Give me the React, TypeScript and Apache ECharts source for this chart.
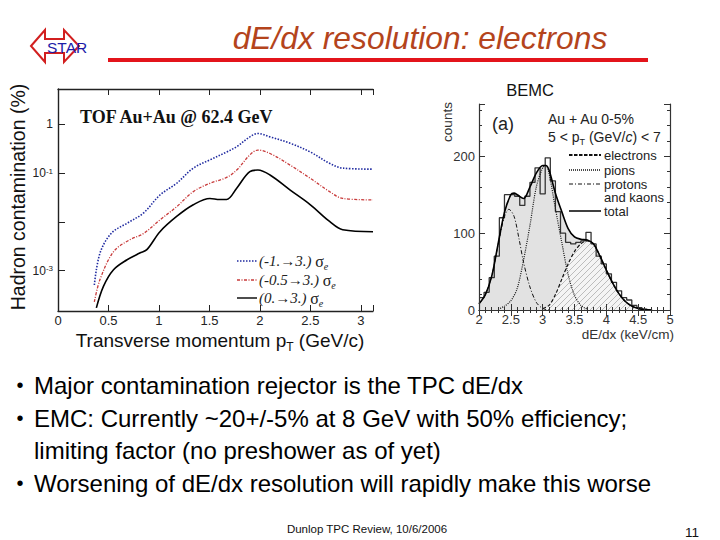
import React, { useEffect, useRef } from "react";
import * as echarts from "echarts";

// ---------- Left plot: hadron contamination vs pT ----------
const blueX = [0.36, 0.416, 0.53, 0.68, 0.845, 1.01, 1.175, 1.34, 1.505, 1.67, 1.77, 1.9, 1.98, 2.1, 2.3, 2.5, 2.69, 2.82, 3.12];
const blueY = [5.1e-4, 2.3e-3, 5.9e-3, 9.3e-3, 0.0151, 0.0355, 0.0617, 0.126, 0.186, 0.269, 0.347, 0.55, 0.646, 0.55, 0.407, 0.269, 0.158, 0.126, 0.12];
const redX = [0.36, 0.416, 0.55, 0.71, 0.845, 1.01, 1.175, 1.34, 1.505, 1.67, 1.77, 1.9, 1.98, 2.1, 2.3, 2.5, 2.69, 2.82, 3.12];
const redY = [2.3e-4, 6.6e-4, 2.45e-3, 4.3e-3, 5.75e-3, 0.011, 0.0204, 0.0417, 0.0617, 0.0813, 0.115, 0.234, 0.295, 0.251, 0.145, 0.0776, 0.0417, 0.0302, 0.0282];
const blackX = [0.38, 0.45, 0.55, 0.68, 0.81, 0.88, 1.01, 1.175, 1.34, 1.505, 1.6, 1.67, 1.77, 1.9, 1.98, 2.1, 2.3, 2.5, 2.69, 2.82, 3.12];
const blackY = [1.74e-4, 4.8e-4, 1.05e-3, 1.66e-3, 2.3e-3, 2.7e-3, 6.3e-3, 0.0129, 0.0224, 0.0302, 0.0288, 0.0288, 0.049, 0.107, 0.115, 0.091, 0.0447, 0.0224, 0.0102, 0.0069, 0.0063];
const leftXTicks = [0, 0.5, 1, 1.5, 2, 2.5, 3];

// ---------- Right plot: BEMC dE/dx histogram ----------
const histEdges = [2.0, 2.08, 2.16, 2.24, 2.32, 2.4, 2.48, 2.56, 2.64, 2.72, 2.8, 2.88, 2.96, 3.04, 3.12, 3.2, 3.28, 3.36, 3.44, 3.52, 3.6, 3.68, 3.76, 3.84, 3.92, 4.0, 4.08, 4.16, 4.24, 4.32, 4.4, 4.48, 4.56, 4.64, 4.72];
const histCounts = [16, 23, 42, 70, 120, 150, 150, 148, 136, 148, 166, 185, 151, 198, 168, 128, 100, 88, 86, 88, 90, 101, 86, 70, 60, 47, 36, 25, 16, 13, 6, 3, 1, 0];
const pkX = [2.0, 2.1, 2.2, 2.3, 2.4, 2.47, 2.55, 2.63, 2.7, 2.8, 2.9, 3.0, 3.1];
const pkY = [8, 20, 44, 85, 122, 131, 122, 92, 62, 30, 10, 2, 0];
const piX = [2.3, 2.4, 2.5, 2.6, 2.7, 2.8, 2.9, 3.0, 3.05, 3.1, 3.2, 3.3, 3.4, 3.5, 3.6, 3.7];
const piY = [1, 5, 12, 28, 65, 110, 160, 185, 188, 178, 132, 88, 46, 19, 6, 1];
const elX = [3.0, 3.1, 3.2, 3.3, 3.4, 3.5, 3.6, 3.7, 3.8, 3.9, 4.0, 4.1, 4.2, 4.3, 4.4, 4.5, 4.6, 4.7];
const elY = [2, 6, 20, 40, 60, 76, 86, 90, 86, 70, 52, 35, 21, 11, 5, 2, 0.5, 0];
const totX = [2.0, 2.1, 2.2, 2.3, 2.4, 2.5, 2.55, 2.6, 2.7, 2.8, 2.9, 3.0, 3.05, 3.1, 3.2, 3.3, 3.4, 3.5, 3.6, 3.7, 3.8, 3.9, 4.0, 4.1, 4.2, 4.3, 4.4, 4.5, 4.6, 4.7];
const totY = [8, 20, 44, 86, 127, 150, 152, 150, 145, 160, 178, 188, 188, 182, 152, 128, 106, 95, 92, 91, 86, 70, 52, 35, 21, 11, 5, 2, 0.5, 0];
const rightYLabels = [0, 100, 200];

// ---------- Slide text ----------
const slideTitle = "dE/dx resolution: electrons";
const bullets = [
  { bullet: true, text: "Major contamination rejector is the TPC dE/dx" },
  { bullet: true, text: "EMC: Currently ~20+/-5% at 8 GeV with 50% efficiency;" },
  { bullet: false, text: "limiting factor (no preshower as of yet)" },
  { bullet: true, text: "Worsening of dE/dx resolution will rapidly make this worse" },
];
const footer = "Dunlop TPC Review, 10/6/2006";
const pageNo = "11";

const SANS = '"Liberation Sans", Arial, Helvetica, sans-serif';
const SERIF = '"Liberation Serif", "Times New Roman", serif';

const pair = (xs: number[], ys: number[]) => xs.map((x, i) => [x, ys[i]]);

export default function App() {
  const ref = useRef<HTMLDivElement>(null);
  useEffect(() => {
    if (!ref.current) return;
    const chart = echarts.init(ref.current, null, { renderer: "svg", width: 720, height: 540 });

    // hatch pattern for electron component
    const cv = document.createElement("canvas");
    cv.width = 6;
    cv.height = 6;
    const ctx = cv.getContext("2d");
    if (ctx) {
      ctx.fillStyle = "#f4f4f4";
      ctx.fillRect(0, 0, 6, 6);
      ctx.strokeStyle = "#bcbcbc";
      ctx.lineWidth = 1;
      ctx.beginPath();
      ctx.moveTo(0, 6);
      ctx.lineTo(6, 0);
      ctx.moveTo(-1, 1);
      ctx.lineTo(1, -1);
      ctx.moveTo(5, 7);
      ctx.lineTo(7, 5);
      ctx.stroke();
    }

    const histData: number[][] = histCounts.map((c, i) => [histEdges[i], c]);
    histData.push([histEdges[histEdges.length - 1], histCounts[histCounts.length - 1]]);

    const axisCol = "#222";
    const rAxisCol = "#333";

    const leftLegend = [
      { y: 261, color: "#1f2aa0", dash: [1.5, 1.5], w: 1.6, label: "(-1.\u21923.) " },
      { y: 280, color: "#c83a3a", dash: [3, 1.5, 1, 1.5], w: 1.3, label: "(-0.5\u21923.) " },
      { y: 298, color: "#000", dash: null as any, w: 1.4, label: "(0.\u21923.) " },
    ];
    const rightLegend = [
      { y: 155, dash: [3.5, 1.5], w: 2, label: "electrons" },
      { y: 170, dash: [1, 1], w: 1.3, label: "pions" },
      { y: 184, dash: [4, 2, 1, 2], w: 1, label: "protons" },
      { y: 211, dash: null as any, w: 1.6, label: "total" },
    ];

    const graphics: any[] = [
      // STAR logo
      {
        type: "polygon",
        shape: { points: [[31, 46], [45, 30], [45, 39], [64, 39], [64, 30], [79, 46], [64, 62], [64, 53], [45, 53], [45, 62]] },
        style: { fill: "#fff", stroke: "#d21f1f", lineWidth: 2 },
      },
      {
        type: "text",
        style: { text: "STAR", x: 47, y: 47, fontSize: 15.5, fontFamily: SANS, fill: "#1b1ba8", align: "left", verticalAlign: "middle", textAlign: "left", textVerticalAlign: "middle" },
      },
      // Title
      {
        type: "text",
        style: { text: slideTitle, x: 420, y: 38, fontSize: 31.8, fontStyle: "italic", fontFamily: SANS, fill: "#b4441c", align: "center", verticalAlign: "middle", textAlign: "center", textVerticalAlign: "middle" },
      },
      { type: "line", shape: { x1: 108, y1: 60, x2: 648, y2: 60 }, style: { stroke: "#e3141b", lineWidth: 4 } },
      // left plot axis titles
      {
        type: "text",
        x: 18,
        y: 197,
        rotation: Math.PI / 2,
        style: { text: "Hadron contamination (%)", x: 0, y: 0, fontSize: 19.5, fontFamily: SANS, fill: "#111", align: "center", verticalAlign: "middle", textAlign: "center", textVerticalAlign: "middle" },
      },
      {
        type: "text",
        style: {
          text: "{a|Transverse momentum p}{s|T}{a| (GeV/c)}",
          x: 220,
          y: 340,
          align: "center",
          verticalAlign: "middle",
          textAlign: "center",
          textVerticalAlign: "middle",
          rich: {
            a: { fontSize: 19, fontFamily: SANS, fill: "#111", color: "#111", lineHeight: 26 },
            s: { fontSize: 12, fontFamily: SANS, fill: "#111", color: "#111", lineHeight: 26, verticalAlign: "bottom" },
          },
        },
      },
      {
        type: "text",
        style: { text: "TOF Au+Au @ 62.4 GeV", x: 80, y: 117, fontSize: 18, fontWeight: "bold", fontFamily: SERIF, fill: "#111", align: "left", verticalAlign: "middle", textAlign: "left", textVerticalAlign: "middle" },
      },
      // right plot texts
      {
        type: "text",
        style: { text: "BEMC", x: 530, y: 90, fontSize: 16.5, fontFamily: SANS, fill: "#111", align: "center", verticalAlign: "middle", textAlign: "center", textVerticalAlign: "middle" },
      },
      {
        type: "text",
        x: 447,
        y: 122,
        rotation: Math.PI / 2,
        style: { text: "counts", x: 0, y: 0, fontSize: 13.5, fontFamily: SANS, fill: "#333", align: "center", verticalAlign: "middle", textAlign: "center", textVerticalAlign: "middle" },
      },
      {
        type: "text",
        style: { text: "dE/dx (keV/cm)", x: 674, y: 334, fontSize: 13.5, fontFamily: SANS, fill: "#333", align: "right", verticalAlign: "middle", textAlign: "right", textVerticalAlign: "middle" },
      },
      {
        type: "text",
        style: { text: "(a)", x: 492, y: 124, fontSize: 18, fontFamily: SANS, fill: "#222", align: "left", verticalAlign: "middle", textAlign: "left", textVerticalAlign: "middle" },
      },
      {
        type: "text",
        style: { text: "Au + Au 0-5%", x: 548, y: 119, fontSize: 14, fontFamily: SANS, fill: "#222", align: "left", verticalAlign: "middle", textAlign: "left", textVerticalAlign: "middle" },
      },
      {
        type: "text",
        style: {
          text: "{n|5 < p}{s|T}{n| (GeV/}{i|c}{n|) < 7}",
          x: 548,
          y: 137,
          align: "left",
          verticalAlign: "middle",
          textAlign: "left",
          textVerticalAlign: "middle",
          rich: {
            n: { fontSize: 14, fontFamily: SANS, fill: "#222", color: "#222", lineHeight: 19 },
            i: { fontSize: 14, fontFamily: SANS, fontStyle: "italic", fill: "#222", color: "#222", lineHeight: 19 },
            s: { fontSize: 9, fontFamily: SANS, fill: "#222", color: "#222", lineHeight: 19, verticalAlign: "bottom" },
          },
        },
      },
      {
        type: "text",
        style: { text: "and kaons", x: 604, y: 197.5, fontSize: 13, fontFamily: SANS, fill: "#222", align: "left", verticalAlign: "middle", textAlign: "left", textVerticalAlign: "middle" },
      },
      // footer
      {
        type: "text",
        style: { text: footer, x: 367, y: 529, fontSize: 11.5, fontFamily: SANS, fill: "#111", align: "center", verticalAlign: "middle", textAlign: "center", textVerticalAlign: "middle" },
      },
      {
        type: "text",
        style: { text: pageNo, x: 692, y: 532, fontSize: 13.5, fontFamily: SANS, fill: "#111", align: "center", verticalAlign: "middle", textAlign: "center", textVerticalAlign: "middle" },
      },
    ];

    leftLegend.forEach((l) => {
      graphics.push({
        type: "line",
        shape: { x1: 237, y1: l.y, x2: 257, y2: l.y },
        style: { stroke: l.color, lineWidth: l.w, lineDash: l.dash || undefined },
      });
      graphics.push({
        type: "text",
        style: {
          text: `{i|${l.label}}{g|\u03c3}{e|e}`,
          x: 259,
          y: l.y,
          align: "left",
          verticalAlign: "middle",
          textAlign: "left",
          textVerticalAlign: "middle",
          rich: {
            i: { fontSize: 15, fontFamily: SERIF, fontStyle: "italic", fill: "#222", color: "#222", lineHeight: 20 },
            g: { fontSize: 16, fontFamily: SERIF, fill: "#222", color: "#222", lineHeight: 20 },
            e: { fontSize: 10, fontFamily: SERIF, fontStyle: "italic", fill: "#222", color: "#222", lineHeight: 20, verticalAlign: "bottom" },
          },
        },
      });
    });

    rightLegend.forEach((l) => {
      graphics.push({
        type: "line",
        shape: { x1: 569, y1: l.y, x2: 601, y2: l.y },
        style: { stroke: "#111", lineWidth: l.w, lineDash: l.dash || undefined },
      });
      graphics.push({
        type: "text",
        style: { text: l.label, x: 604, y: l.y, fontSize: 13, fontFamily: SANS, fill: "#222", align: "left", verticalAlign: "middle", textAlign: "left", textVerticalAlign: "middle" },
      });
    });

    const lineYs = [385, 418, 450, 483];
    bullets.forEach((b, i) => {
      if (b.bullet) {
        graphics.push({
          type: "text",
          style: { text: "\u2022", x: 20, y: lineYs[i], fontSize: 20, fontFamily: SANS, fill: "#000", align: "center", verticalAlign: "middle", textAlign: "center", textVerticalAlign: "middle" },
        });
      }
      graphics.push({
        type: "text",
        style: { text: b.text, x: 34, y: lineYs[i], fontSize: 24, fontFamily: SANS, fill: "#000", align: "left", verticalAlign: "middle", textAlign: "left", textVerticalAlign: "middle" },
      });
    });

    const leftXFmt = (v: number) => (leftXTicks.some((t) => Math.abs(t - v) < 1e-6) ? String(v) : "");
    const logFmt = (v: number) => {
      const e = Math.log10(v);
      if (Math.abs(e) < 0.01) return "{b|1}";
      if (Math.abs(e + 1) < 0.01) return "{b|10}{s|-1}";
      if (Math.abs(e + 3) < 0.01) return "{b|10}{s|-3}";
      return "";
    };

    const rTick = { inside: true, length: 6, lineStyle: { color: rAxisCol, width: 1 } };
    const rMinor = { show: true, splitNumber: 5, length: 3, lineStyle: { color: rAxisCol, width: 1 } };
    const rLine = { show: true, lineStyle: { color: rAxisCol, width: 1.2 } };

    const option: any = {
      animation: false,
      backgroundColor: "#fff",
      grid: [
        { left: 58, top: 89, width: 315, height: 222, show: false },
        { left: 479, top: 104, width: 191, height: 206, show: false },
      ],
      xAxis: [
        {
          gridIndex: 0, type: "value", min: 0, max: 3.12, interval: 0.5, position: "bottom", z: 10,
          axisLine: { show: true, lineStyle: { color: axisCol, width: 1.4 } },
          axisTick: { inside: true, length: 6, lineStyle: { color: axisCol } },
          axisLabel: { formatter: leftXFmt, fontSize: 13, color: "#222", fontFamily: SANS, margin: 3 },
          splitLine: { show: false },
        },
        {
          gridIndex: 0, type: "value", min: 0, max: 3.12, interval: 0.5, position: "top", z: 10,
          axisLine: { show: true, lineStyle: { color: axisCol, width: 1.4 } },
          axisTick: { inside: true, length: 6, lineStyle: { color: axisCol } },
          axisLabel: { show: false },
          splitLine: { show: false },
        },
        {
          gridIndex: 1, type: "value", min: 2, max: 5, interval: 0.5, position: "bottom", z: 10,
          axisLine: rLine, axisTick: rTick, minorTick: rMinor,
          axisLabel: { fontSize: 13, color: "#333", fontFamily: SANS, margin: 3 },
          splitLine: { show: false },
        },
        {
          gridIndex: 1, type: "value", min: 2, max: 5, interval: 0.5, position: "top", z: 10,
          axisLine: rLine, axisTick: rTick, minorTick: rMinor,
          axisLabel: { show: false },
          splitLine: { show: false },
        },
      ],
      yAxis: [
        {
          gridIndex: 0, type: "log", logBase: 10, min: 1.5e-4, max: 5.25, position: "left", z: 10,
          axisLine: { show: true, lineStyle: { color: axisCol, width: 1.4 } },
          axisTick: { inside: true, length: 7, lineStyle: { color: axisCol } },
          axisLabel: {
            formatter: logFmt, margin: 5,
            rich: {
              b: { fontSize: 12, color: "#222", fontFamily: SANS },
              s: { fontSize: 8, color: "#222", fontFamily: SANS, verticalAlign: "top" },
            },
          },
          splitLine: { show: false },
        },
        {
          gridIndex: 1, type: "value", min: 0, max: 268, interval: 100, position: "left", z: 10,
          axisLine: rLine, axisTick: rTick, minorTick: rMinor,
          axisLabel: {
            formatter: (v: number) => (rightYLabels.indexOf(v) >= 0 ? String(v) : ""),
            fontSize: 13, color: "#333", fontFamily: SANS, margin: 4,
          },
          splitLine: { show: false },
        },
        {
          gridIndex: 1, type: "value", min: 0, max: 268, interval: 100, position: "right", z: 10,
          axisLine: rLine, axisTick: rTick, minorTick: rMinor,
          axisLabel: { show: false },
          splitLine: { show: false },
        },
      ],
      series: [
        { type: "line", xAxisIndex: 0, yAxisIndex: 0, data: pair(blueX, blueY), smooth: 0.35, symbol: "none", lineStyle: { color: "#1f2aa0", width: 1.6, type: [1.5, 1.5] }, z: 3 },
        { type: "line", xAxisIndex: 0, yAxisIndex: 0, data: pair(redX, redY), smooth: 0.35, symbol: "none", lineStyle: { color: "#c83a3a", width: 1.3, type: [3, 1.5, 1, 1.5] }, z: 3 },
        { type: "line", xAxisIndex: 0, yAxisIndex: 0, data: pair(blackX, blackY), smooth: 0.35, symbol: "none", lineStyle: { color: "#000", width: 1.6 }, z: 3 },
        // right plot
        { type: "line", xAxisIndex: 2, yAxisIndex: 1, data: pair(totX, totY), smooth: 0.3, symbol: "none", lineStyle: { width: 0, opacity: 0 }, areaStyle: { color: "#e2e2e2", opacity: 1 }, z: 1 },
        { type: "line", xAxisIndex: 2, yAxisIndex: 1, data: pair(elX, elY), smooth: 0.3, symbol: "none", lineStyle: { width: 0, opacity: 0 }, areaStyle: { color: { image: cv, repeat: "repeat", imageWidth: 6, imageHeight: 6 }, opacity: 1 }, z: 1 },
        { type: "line", xAxisIndex: 2, yAxisIndex: 1, data: histData, step: "end", symbol: "none", lineStyle: { color: "#333", width: 1.3 }, z: 2 },
        { type: "line", xAxisIndex: 2, yAxisIndex: 1, data: pair(pkX, pkY), smooth: 0.3, symbol: "none", lineStyle: { color: "#111", width: 1, type: [4, 2, 1, 2] }, z: 3 },
        { type: "line", xAxisIndex: 2, yAxisIndex: 1, data: pair(piX, piY), smooth: 0.3, symbol: "none", lineStyle: { color: "#111", width: 1.2, type: [1, 1.2] }, z: 3 },
        { type: "line", xAxisIndex: 2, yAxisIndex: 1, data: pair(elX, elY), smooth: 0.3, symbol: "none", lineStyle: { color: "#111", width: 1.2, type: [3.5, 2] }, z: 3 },
        { type: "line", xAxisIndex: 2, yAxisIndex: 1, data: pair(totX, totY), smooth: 0.3, symbol: "none", lineStyle: { color: "#000", width: 1.6 }, z: 4 },
      ],
      graphic: { elements: graphics },
    };

    chart.setOption(option);
    return () => chart.dispose();
  }, []);

  return (
    <div
      ref={ref}
      style={{ position: "absolute", left: 0, top: 0, width: 720, height: 540, background: "#fff" }}
    />
  );
}
